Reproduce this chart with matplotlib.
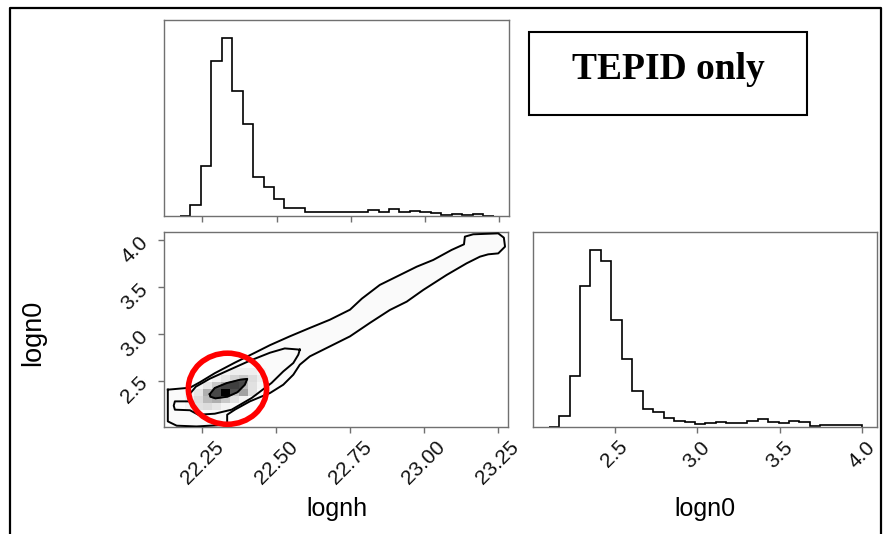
import numpy as np
import matplotlib
matplotlib.use("Agg")
import matplotlib.pyplot as plt
from matplotlib.patches import Ellipse, Rectangle
from matplotlib.colors import LinearSegmentedColormap
from matplotlib.lines import Line2D

plt.rcParams['font.family'] = ['Liberation Sans', 'DejaVu Sans']

# 1D marginal histograms (bin heights)
lognh_edges = np.linspace(22.174, 23.233, 31)
lognh_counts = [1, 32, 148, 463, 532, 374, 275, 117, 88, 50, 23, 23, 13, 11, 11,
                11, 13, 11, 17, 13, 21, 12, 14, 12, 8, 4, 6, 3, 6, 1]
logn0_edges = np.linspace(2.10, 4.00, 31)
logn0_counts = [1, 33, 152, 422, 532, 499, 320, 203, 108, 53, 45, 28, 18, 14, 10,
                13, 14, 12, 13, 17, 25, 16, 11, 19, 15, 4, 7, 5, 7, 5]

# 2D contours (lognh, logn0)
outer_x = [22.133, 22.208, 22.242, 22.292, 22.360, 22.428, 22.479, 22.546, 22.614,
           22.682, 22.750, 22.790, 22.851, 22.919, 22.976, 23.032, 23.094, 23.136,
           23.139, 23.167, 23.252, 23.271, 23.275, 23.252, 23.218, 23.190, 23.145,
           23.077, 22.998, 22.942, 22.885, 22.817, 22.750, 22.682, 22.614, 22.580,
           22.558, 22.524, 22.479, 22.411, 22.360, 22.334, 22.334, 22.230, 22.163,
           22.133, 22.133]
outer_y = [2.404, 2.425, 2.484, 2.580, 2.693, 2.799, 2.880, 2.974, 3.064,
           3.152, 3.259, 3.377, 3.524, 3.630, 3.719, 3.791, 3.898, 3.958,
           4.040, 4.065, 4.075, 4.029, 3.933, 3.861, 3.851, 3.826, 3.755,
           3.630, 3.470, 3.345, 3.256, 3.117, 2.974, 2.867, 2.760, 2.671,
           2.564, 2.457, 2.368, 2.279, 2.190, 2.136, 2.029, 2.011, 2.019,
           2.065, 2.350]
middle_x = [22.580, 22.529, 22.479, 22.411, 22.343, 22.275, 22.228, 22.208, 22.208,
            22.157, 22.153, 22.157, 22.208, 22.236, 22.292, 22.349, 22.417, 22.484,
            22.524, 22.558, 22.575]
middle_y = [2.832, 2.845, 2.799, 2.714, 2.618, 2.521, 2.436, 2.361, 2.279,
            2.279, 2.233, 2.190, 2.184, 2.136, 2.147, 2.190, 2.315, 2.475,
            2.599, 2.689, 2.778]
inner_x = [22.275, 22.292, 22.333, 22.379, 22.402, 22.394, 22.369, 22.335, 22.294, 22.277]
inner_y = [2.356, 2.422, 2.475, 2.511, 2.519, 2.457, 2.377, 2.329, 2.311, 2.329]

# 2D density cells near the peak (0 = white, 1 = black)
dens_x = [22.192, 22.223, 22.253, 22.284, 22.314, 22.345, 22.375, 22.406, 22.436, 22.467]
dens_y = [2.190, 2.265, 2.340, 2.415, 2.490, 2.565, 2.640]
density = [
    [0.03, 0.10, 0.12, 0.08, 0.03, 0.00, 0.00, 0.00, 0.00],
    [0.05, 0.12, 0.25, 0.30, 0.20, 0.10, 0.03, 0.00, 0.00],
    [0.02, 0.08, 0.30, 0.25, 1.00, 0.20, 0.35, 0.10, 0.00],
    [0.00, 0.02, 0.08, 0.20, 0.30, 0.35, 0.25, 0.10, 0.02],
    [0.00, 0.00, 0.00, 0.03, 0.08, 0.15, 0.20, 0.12, 0.05],
    [0.00, 0.00, 0.00, 0.00, 0.02, 0.05, 0.05, 0.05, 0.02],
]

nh_lim = (22.12, 23.285)
n0_lim = (2.005, 4.09)
nh_ticks = [22.25, 22.50, 22.75, 23.00, 23.25]
n0_ticks = [2.5, 3.0, 3.5, 4.0]

fig = plt.figure(figsize=(8.83, 5.34), dpi=100)
ax_top = fig.add_axes([0.1857, 0.5955, 0.3907, 0.367])
ax_2d = fig.add_axes([0.1857, 0.2004, 0.3896, 0.3652])
ax_rt = fig.add_axes([0.6036, 0.2004, 0.3896, 0.3652])

for ax in (ax_top, ax_2d, ax_rt):
    for s in ax.spines.values():
        s.set_color('#707070')
        s.set_linewidth(1.0)
    ax.tick_params(direction='out', length=4, width=1, color='#707070',
                   labelsize=15, labelcolor='#111111')

# top-left histogram
ax_top.stairs(lognh_counts, lognh_edges, color='k', lw=1.2)
ax_top.set_xlim(nh_lim)
ax_top.set_ylim(0, 1.1 * max(lognh_counts))
ax_top.set_xticks(nh_ticks)
ax_top.set_xticklabels([])
ax_top.set_yticks([])

# bottom-right histogram
ax_rt.stairs(logn0_counts, logn0_edges, color='k', lw=1.2)
ax_rt.set_xlim(n0_lim)
ax_rt.set_ylim(0, 1.1 * max(logn0_counts))
ax_rt.set_xticks(n0_ticks)
ax_rt.set_xticklabels(['2.5', '3.0', '3.5', '4.0'], rotation=45)
ax_rt.set_yticks([])

# 2D panel
ax_2d.fill(outer_x, outer_y, color='#fafafa', zorder=1)
ax_2d.fill(inner_x, inner_y, color='0.38', zorder=2)
dcmap = LinearSegmentedColormap.from_list('dens', [(0, 0, 0, 0), (0, 0, 0, 1)])
ax_2d.pcolormesh(dens_x, dens_y, np.array(density), cmap=dcmap, vmin=0, vmax=1, zorder=3)
for xs, ys in ((outer_x, outer_y), (middle_x, middle_y), (inner_x, inner_y)):
    ax_2d.plot(xs + xs[:1], ys + ys[:1], color='k', lw=1.4, zorder=4)
ax_2d.add_patch(Ellipse((22.335, 2.414), 0.265, 0.76, fill=False, ec='#ff0000',
                        lw=4.0, zorder=5, clip_on=False))
ax_2d.set_xlim(nh_lim)
ax_2d.set_ylim(n0_lim)
ax_2d.set_xticks(nh_ticks)
ax_2d.set_xticklabels(['22.25', '22.50', '22.75', '23.00', '23.25'], rotation=45)
ax_2d.set_yticks(n0_ticks)
ax_2d.set_yticklabels(['2.5', '3.0', '3.5', '4.0'], rotation=45)
ax_2d.tick_params(axis='y', pad=5)

# axis labels
fig.text(336.5 / 883, 1 - 508.7 / 534, 'lognh', fontsize=18, ha='center', va='center')
fig.text(705 / 883, 1 - 508.7 / 534, 'logn0', fontsize=18, ha='center', va='center')
fig.text(33.3 / 883, 1 - 332.5 / 534, 'logn0', fontsize=19.5, ha='center', va='center',
         rotation=90)

# annotation box
fig.patches.append(Rectangle((529 / 883, 1 - 115 / 534), 278 / 883, 83 / 534,
                             transform=fig.transFigure, fill=False, ec='k', lw=1.5))
fig.text(668 / 883, 1 - 79 / 534, 'TEPID only', family='Liberation Serif',
         weight='bold', fontsize=27, ha='center', va='baseline')

# outer frame
fx0, fy1, fx1 = 9.5 / 883, 1 - 7.5 / 534, 880.5 / 883
fig.lines.append(Line2D([fx0, fx0, fx1, fx1], [0, fy1, fy1, 0],
                        transform=fig.transFigure, color='k', lw=1.6))

fig.savefig('out.png', dpi=100)
